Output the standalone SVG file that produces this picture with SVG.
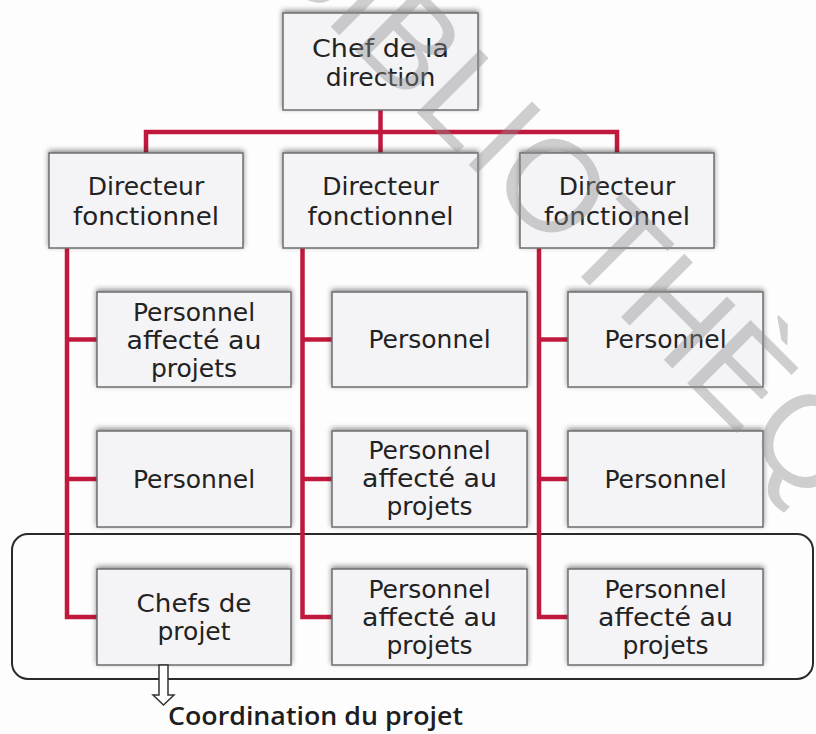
<svg xmlns="http://www.w3.org/2000/svg" width="816" height="734" viewBox="0 0 816 734">
  <defs>
    <filter id="shadow" x="-10%" y="-20%" width="120%" height="140%">
      <feDropShadow dx="0" dy="-2" stdDeviation="2.5" flood-color="#2a2a2a" flood-opacity="0.55"/>
    </filter>
    <style>
      .box { fill: #f4f3f6; stroke: #6e6e72; stroke-width: 1.5; filter: url(#shadow); }
      .lbl { font-family: "DejaVu Sans", "Liberation Sans", sans-serif; font-size: 25px; fill: #222222; text-anchor: middle; }
      .link { fill: none; stroke: #c1193d; stroke-width: 4.5; stroke-linejoin: miter; stroke-linecap: butt; }
      .group { fill: none; stroke: #2a2a2a; stroke-width: 2; }
      .note { font-family: "Open Sans", "Liberation Sans", sans-serif; font-size: 25px; font-weight: 600; fill: #1e1e1e; }
      .mark { font-family: "Liberation Sans", "DejaVu Sans", sans-serif; font-size: 130px; fill: #8f8f8f; opacity: 0.42; }
    </style>
  </defs>

  <rect x="0" y="0" width="816" height="734" fill="#fdfdfd"/>

  <!-- project coordination frame around the bottom row -->
  <rect class="group" x="12" y="534" width="801" height="145" rx="16" ry="16"/>

  <!-- connectors -->
  <g id="connectors">
    <path class="link" d="M380.5,110 V153"/>
    <path class="link" d="M146,153 V132 H617 V153"/>
    <path class="link" d="M67,248 V617 H97 M67,339.5 H97 M67,479 H97"/>
    <path class="link" d="M302.5,248 V617 H332 M302.5,339.5 H332 M302.5,479 H332"/>
    <path class="link" d="M539,248 V617 H568 M539,339.5 H568 M539,479 H568"/>
  </g>

  <!-- top management -->
  <g id="chef-direction">
    <rect class="box" x="283" y="13" width="195" height="97"/>
    <text class="lbl" x="380.5" y="57" textLength="137" lengthAdjust="spacingAndGlyphs">Chef de la</text>
    <text class="lbl" x="380.5" y="86">direction</text>
  </g>

  <!-- functional directors -->
  <g id="directeur-1">
    <rect class="box" x="49" y="153" width="194" height="95"/>
    <text class="lbl" x="146" y="195">Directeur</text>
    <text class="lbl" x="146" y="225" textLength="146" lengthAdjust="spacingAndGlyphs">fonctionnel</text>
  </g>
  <g id="directeur-2">
    <rect class="box" x="283" y="153" width="195" height="95"/>
    <text class="lbl" x="380.5" y="195">Directeur</text>
    <text class="lbl" x="380.5" y="225" textLength="146" lengthAdjust="spacingAndGlyphs">fonctionnel</text>
  </g>
  <g id="directeur-3">
    <rect class="box" x="520" y="153" width="194" height="95"/>
    <text class="lbl" x="617" y="195">Directeur</text>
    <text class="lbl" x="617" y="225" textLength="146" lengthAdjust="spacingAndGlyphs">fonctionnel</text>
  </g>

  <!-- column 1 -->
  <g id="c1-r1">
    <rect class="box" x="97" y="292" width="194" height="95"/>
    <text class="lbl" x="194" y="320.5">Personnel</text>
    <text class="lbl" x="194" y="348.5" textLength="135" lengthAdjust="spacingAndGlyphs">affecté au</text>
    <text class="lbl" x="194" y="376.5">projets</text>
  </g>
  <g id="c1-r2">
    <rect class="box" x="97" y="431" width="194" height="96"/>
    <text class="lbl" x="194" y="487.5">Personnel</text>
  </g>
  <g id="c1-r3">
    <rect class="box" x="97" y="569" width="194" height="96"/>
    <text class="lbl" x="194" y="612" textLength="115" lengthAdjust="spacingAndGlyphs">Chefs de</text>
    <text class="lbl" x="194" y="640">projet</text>
  </g>

  <!-- column 2 -->
  <g id="c2-r1">
    <rect class="box" x="332" y="292" width="195" height="95"/>
    <text class="lbl" x="429.5" y="348">Personnel</text>
  </g>
  <g id="c2-r2">
    <rect class="box" x="332" y="431" width="195" height="96"/>
    <text class="lbl" x="429.5" y="459">Personnel</text>
    <text class="lbl" x="429.5" y="487" textLength="135" lengthAdjust="spacingAndGlyphs">affecté au</text>
    <text class="lbl" x="429.5" y="515">projets</text>
  </g>
  <g id="c2-r3">
    <rect class="box" x="332" y="569" width="195" height="96"/>
    <text class="lbl" x="429.5" y="598">Personnel</text>
    <text class="lbl" x="429.5" y="626" textLength="135" lengthAdjust="spacingAndGlyphs">affecté au</text>
    <text class="lbl" x="429.5" y="654">projets</text>
  </g>

  <!-- column 3 -->
  <g id="c3-r1">
    <rect class="box" x="568" y="292" width="195" height="95"/>
    <text class="lbl" x="665.5" y="348">Personnel</text>
  </g>
  <g id="c3-r2">
    <rect class="box" x="568" y="431" width="195" height="96"/>
    <text class="lbl" x="665.5" y="487.5">Personnel</text>
  </g>
  <g id="c3-r3">
    <rect class="box" x="568" y="569" width="195" height="96"/>
    <text class="lbl" x="665.5" y="598">Personnel</text>
    <text class="lbl" x="665.5" y="626" textLength="135" lengthAdjust="spacingAndGlyphs">affecté au</text>
    <text class="lbl" x="665.5" y="654">projets</text>
  </g>

  <!-- hollow arrow and caption -->
  <g id="coordination">
    <polygon points="159,665 168,665 168,695 174,695 163.5,705 153,695 159,695" fill="#ffffff" stroke="#333333" stroke-width="1.5" stroke-linejoin="miter"/>
    <text class="note" x="168" y="725" textLength="295" lengthAdjust="spacingAndGlyphs">Coordination du projet</text>
  </g>

  <!-- library watermark -->
  <text class="mark" transform="translate(261,-43) rotate(45)" x="0" y="0">BIBLIOTHÈQUE</text>
</svg>
